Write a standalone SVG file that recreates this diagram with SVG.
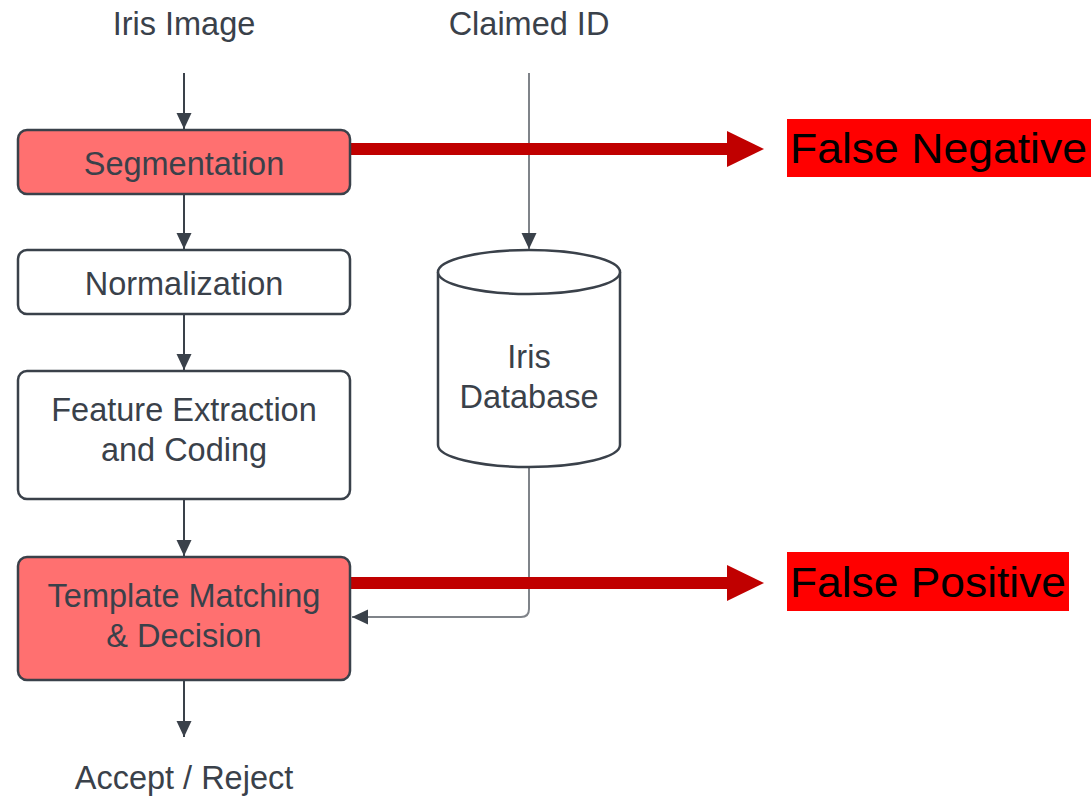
<svg xmlns="http://www.w3.org/2000/svg" width="1091" height="798" viewBox="0 0 1091 798">
  <style>
    .box { stroke: #3a414a; stroke-width: 2.5; }
    .hl { fill: #ff7070; }
    .plain { fill: #ffffff; }
    .lbl { font-family: "Liberation Sans", Arial, sans-serif; font-size: 32.5px; fill: #3a414a; text-anchor: middle; }
    .flow { stroke: #3a414a; stroke-width: 2; fill: none; }
    .db { stroke: #7f8389; stroke-width: 2; fill: none; }
    .err { stroke: #c00000; stroke-width: 12; fill: none; }
    .errhead { fill: #c00000; }
    .tag { font-family: "Liberation Sans", Arial, sans-serif; font-size: 42px; fill: #000000; }
  </style>
  <defs>
    <marker id="ah" markerWidth="16" markerHeight="22" refX="16" refY="11" orient="auto" markerUnits="userSpaceOnUse">
      <path d="M0,3.5 L16,11 L0,18.5 Z" fill="#3a414a"/>
    </marker>
  </defs>

  <rect width="1091" height="798" fill="#ffffff"/>

  <!-- connectors -->
  <g id="connectors">
    <line class="flow" x1="184" y1="73" x2="184" y2="129" marker-end="url(#ah)"/>
    <line class="flow" x1="184" y1="194" x2="184" y2="249" marker-end="url(#ah)"/>
    <line class="flow" x1="184" y1="315" x2="184" y2="370" marker-end="url(#ah)"/>
    <line class="flow" x1="184" y1="500" x2="184" y2="556" marker-end="url(#ah)"/>
    <line class="flow" x1="184" y1="681" x2="184" y2="737" marker-end="url(#ah)"/>
    <line class="db" x1="529" y1="73" x2="529" y2="249" marker-end="url(#ah)"/>
    <path class="db" d="M529,467 L529,609 Q529,617 521,617 L352,617" marker-end="url(#ah)"/>
    <line class="err" x1="350" y1="149" x2="729" y2="149"/>
    <polygon class="errhead" points="727,131 764,149 727,167"/>
    <line class="err" x1="350" y1="583" x2="729" y2="583"/>
    <polygon class="errhead" points="727,565 764,583 727,601"/>
  </g>

  <!-- inputs / output labels -->
  <g id="iris-image"><text class="lbl" x="184" y="35">Iris Image</text></g>
  <g id="claimed-id"><text class="lbl" x="529" y="35">Claimed ID</text></g>
  <g id="accept-reject"><text class="lbl" x="184" y="789">Accept / Reject</text></g>

  <!-- pipeline stages -->
  <g id="segmentation">
    <rect class="box hl" x="18" y="130" width="332" height="64" rx="9"/>
    <text class="lbl" x="184" y="175">Segmentation</text>
  </g>
  <g id="normalization">
    <rect class="box plain" x="18" y="250" width="332" height="64" rx="9"/>
    <text class="lbl" x="184" y="295">Normalization</text>
  </g>
  <g id="feature-extraction">
    <rect class="box plain" x="18" y="371" width="332" height="128" rx="9"/>
    <text class="lbl" x="184" y="421">Feature Extraction</text>
    <text class="lbl" x="184" y="461">and Coding</text>
  </g>
  <g id="template-matching">
    <rect class="box hl" x="18" y="557" width="332" height="123" rx="9"/>
    <text class="lbl" x="184" y="607">Template Matching</text>
    <text class="lbl" x="184" y="647">&amp; Decision</text>
  </g>

  <!-- database -->
  <g id="iris-database">
    <path class="box plain" d="M438,272 L438,445 A91,22 0 0 0 620,445 L620,272"/>
    <ellipse class="box plain" cx="529" cy="272" rx="91" ry="22"/>
    <text class="lbl" x="529" y="368">Iris</text>
    <text class="lbl" x="529" y="408">Database</text>
  </g>

  <!-- error outcome tags -->
  <g id="false-negative">
    <rect x="787" y="119" width="304" height="58" fill="#ff0000"/>
    <text class="tag" x="790" y="163" textLength="297" lengthAdjust="spacingAndGlyphs">False Negative</text>
  </g>
  <g id="false-positive">
    <rect x="787" y="552" width="282" height="59" fill="#ff0000"/>
    <text class="tag" x="790" y="597" textLength="276" lengthAdjust="spacingAndGlyphs">False Positive</text>
  </g>
</svg>
